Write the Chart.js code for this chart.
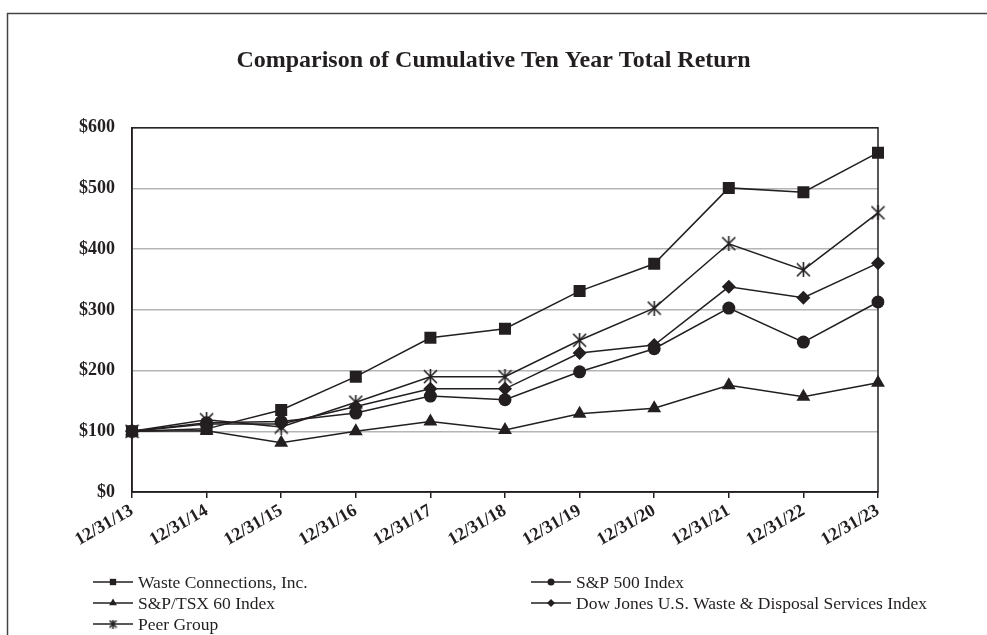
<!DOCTYPE html>
<html>
<head>
<meta charset="utf-8">
<script src="https://cdn.jsdelivr.net/npm/chart.js@4.4.1/dist/chart.umd.min.js"></script>
<style>
  html, body { margin: 0; padding: 0; background: #fff; }
  #wrap { width: 987px; height: 635px; position: relative; }
</style>
</head>
<body>
<div id="wrap"><canvas id="grafico" width="987" height="635"></canvas></div>
<script>
// datos
const fechas = ['12/31/13', '12/31/14', '12/31/15', '12/31/16', '12/31/17', '12/31/18', '12/31/19', '12/31/20', '12/31/21', '12/31/22', '12/31/23'];
const wasteConnections = [100, 104, 135, 190, 254, 269, 331, 376, 501, 494, 559];
const sp500 = [100, 114, 116, 130, 158, 152, 198, 236, 303, 247, 313];
const spTsx60 = [100, 101, 81, 100, 116, 102, 129, 138, 176, 157, 180];
const dowJonesWaste = [100, 112, 112, 141, 170, 170, 229, 242, 338, 320, 377];
const peerGroup = [100, 119, 107, 148, 190, 190, 250, 303, 409, 366, 460];
const nombres = ['Waste Connections, Inc.', 'S&P 500 Index', 'S&P/TSX 60 Index', 'Dow Jones U.S. Waste & Disposal Services Index', 'Peer Group'];
const yTicks = [0, 100, 200, 300, 400, 500, 600];

const NEGRO = '#231f20';
const SERIF = '"Liberation Serif", "Times New Roman", serif';

// asterisco para Peer Group
function crearAsterisco(t) {
    const c = document.createElement('canvas');
    c.width = t; c.height = t;
    const g = c.getContext('2d');
    g.strokeStyle = NEGRO;
    g.lineWidth = 1.6;
    g.beginPath();
    g.moveTo(1, 1); g.lineTo(t - 1, t - 1);
    g.moveTo(t - 1, 1); g.lineTo(1, t - 1);
    g.moveTo(t / 2, 0); g.lineTo(t / 2, t);
    g.stroke();
    return c;
}
const asterisco = crearAsterisco(15);
const asteriscoChico = crearAsterisco(9);

function serie(label, data, estilo, radio, estiloLeyenda) {
    return {
        label: label,
        data: data,
        borderColor: NEGRO,
        backgroundColor: NEGRO,
        borderWidth: 1.5,
        pointStyle: estilo,
        pointRadius: radio,
        pointBorderWidth: 0,
        pointBackgroundColor: NEGRO,
        tension: 0,
        yAxisID: 'y',
        leyenda: estiloLeyenda
    };
}

// marco exterior, borde del area y leyenda
const pluginMarco = {
    id: 'marco',
    beforeDraw(chart) {
        const ctx = chart.ctx;
        ctx.save();
        ctx.fillStyle = '#fff';
        ctx.fillRect(0, 0, chart.width, chart.height);
        ctx.strokeStyle = '#444';
        ctx.lineWidth = 1.5;
        ctx.strokeRect(7.5, 13.5, 1000, 700);
        ctx.restore();
    },
    afterDraw(chart) {
        const ctx = chart.ctx;
        const a = chart.chartArea;
        ctx.save();
        ctx.strokeStyle = NEGRO;
        ctx.lineWidth = 1.5;
        ctx.strokeRect(a.left, a.top, a.right - a.left, a.bottom - a.top);

        // leyenda en dos columnas
        const pos = [[93, 582], [531, 582], [93, 603], [531, 603], [93, 624]];
        ctx.font = '17.5px ' + SERIF;
        ctx.textBaseline = 'middle';
        chart.data.datasets.forEach((ds, i) => {
            const x = pos[i][0], y = pos[i][1];
            ctx.beginPath();
            ctx.moveTo(x, y);
            ctx.lineTo(x + 40, y);
            ctx.lineWidth = 1.5;
            ctx.strokeStyle = NEGRO;
            ctx.stroke();
            ctx.fillStyle = NEGRO;
            Chart.helpers.drawPoint(ctx, {
                pointStyle: ds.leyenda.estilo,
                radius: ds.leyenda.radio,
                rotation: 0,
                borderWidth: 0
            }, x + 20, y);
            ctx.fillStyle = NEGRO;
            ctx.fillText(ds.label, x + 45, y + 1);
        });
        ctx.restore();
    }
};

const ctx = document.getElementById('grafico').getContext('2d');
new Chart(ctx, {
    type: 'line',
    data: {
        labels: fechas,
        datasets: [
            serie(nombres[0], wasteConnections, 'rect', 8.5, { estilo: 'rect', radio: 4.5 }),
            serie(nombres[1], sp500, 'circle', 6.5, { estilo: 'circle', radio: 3.5 }),
            serie(nombres[2], spTsx60, 'triangle', 8, { estilo: 'triangle', radio: 4.5 }),
            serie(nombres[3], dowJonesWaste, 'rectRot', 7, { estilo: 'rectRot', radio: 4 }),
            serie(nombres[4], peerGroup, asterisco, 7.5, { estilo: asteriscoChico, radio: 4.5 })
        ]
    },
    options: {
        responsive: false,
        animation: false,
        devicePixelRatio: 1,
        layout: { padding: 0 },
        plugins: {
            legend: { display: false },
            tooltip: { enabled: false },
            title: {
                display: true,
                text: 'Comparison of Cumulative Ten Year Total Return',
                color: NEGRO,
                font: { family: SERIF, size: 24, weight: 'bold' },
                padding: { top: 46, bottom: 53 }
            }
        },
        scales: {
            x: {
                offset: false,
                grid: { display: true, drawOnChartArea: false, drawTicks: true, tickLength: 6, color: NEGRO, lineWidth: 1.5 },
                border: { display: true, color: NEGRO, width: 1.5 },
                ticks: {
                    color: NEGRO,
                    font: { family: SERIF, size: 18, weight: 'bold' },
                    minRotation: 30,
                    maxRotation: 30,
                    padding: 2,
                    autoSkip: false
                },
                afterFit(scale) { scale.height = 143; }
            },
            y: {
                min: yTicks[0],
                max: yTicks[yTicks.length - 1],
                afterBuildTicks(scale) { scale.ticks = yTicks.map(v => ({ value: v })); },
                grid: { color: '#b5b5b5', lineWidth: 1.5, drawTicks: false },
                border: { display: true, color: NEGRO, width: 1.5 },
                ticks: {
                    color: NEGRO,
                    font: { family: SERIF, size: 18, weight: 'bold' },
                    padding: 17,
                    callback: v => '$' + v
                },
                afterFit(scale) { scale.width = 132; }
            },
            // eje vacio a la derecha para reservar el margen
            margen: {
                position: 'right',
                min: 0,
                max: 600,
                grid: { display: false, drawTicks: false },
                border: { display: false },
                ticks: { display: false },
                afterFit(scale) { scale.width = 109; }
            }
        }
    },
    plugins: [pluginMarco]
});
</script>
</body>
</html>
